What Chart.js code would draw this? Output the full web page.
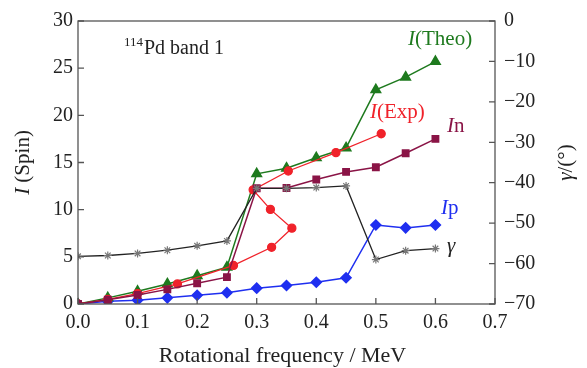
<!DOCTYPE html>
<html><head><meta charset="utf-8">
<script src="https://cdn.jsdelivr.net/npm/chart.js@4/dist/chart.umd.min.js"></script>
<style>html,body{margin:0;padding:0;background:#fff}#wrap{width:587px;height:368px}</style>
</head><body><div id="wrap"><canvas id="c" width="587" height="368"></canvas></div>
<script>
// Rotational frequency (MeV) for calculated series
const freq   = [0.00, 0.05, 0.10, 0.15, 0.20, 0.25, 0.30, 0.35, 0.40, 0.45, 0.50, 0.55, 0.60];
// I(Theo)
const spinTheo = [0.0, 0.65, 1.35, 2.13, 3.0, 3.9, 13.8, 14.4, 15.5, 16.55, 22.7, 24.05, 25.7];
// In (neutron)
const spinN    = [0.0, 0.45, 0.95, 1.55, 2.2, 2.85, 12.27, 12.3, 13.2, 14.0, 14.5, 15.98, 17.5];
// Ip (proton)
const spinP    = [0.0, 0.28, 0.41, 0.65, 0.93, 1.2, 1.68, 1.96, 2.3, 2.78, 8.38, 8.07, 8.38];
// gamma (deg), right axis
const gammaDeg = [-58.2, -58.0, -57.5, -56.7, -55.6, -54.4, -41.4, -41.4, -41.2, -40.8, -59.0, -56.8, -56.3];
// I(Exp): experimental points (non-uniform frequencies)
const expFreq = [0.00, 0.05, 0.10, 0.167, 0.261, 0.325, 0.359, 0.323, 0.294, 0.353, 0.433, 0.509];
const expSpin = [0.0, 0.5, 1.1, 2.13, 4.09, 6.01, 8.04, 10.03, 12.1, 14.1, 16.05, 18.05];

const xTicks = [0.0, 0.1, 0.2, 0.3, 0.4, 0.5, 0.6, 0.7];
const yTicks = [0, 5, 10, 15, 20, 25, 30];
const y2Ticks = [0, -10, -20, -30, -40, -50, -60, -70];

const SERIF = '"Liberation Serif", "DejaVu Serif", serif';
const pts = (xs, ys) => xs.map((x, i) => ({x: x, y: ys[i]}));

function drawMixed(ctx, parts, x, y, size, color, align) {
  let w = 0;
  parts.forEach(p => { ctx.font = (p.i ? 'italic ' : '') + size + 'px ' + SERIF; w += ctx.measureText(p.t).width; });
  let cx = align === 'center' ? x - w / 2 : x;
  ctx.fillStyle = color; ctx.textBaseline = 'alphabetic'; ctx.textAlign = 'left';
  parts.forEach(p => { ctx.font = (p.i ? 'italic ' : '') + size + 'px ' + SERIF; ctx.fillText(p.t, cx, y); cx += ctx.measureText(p.t).width; });
}

const deco = {
  id: 'deco',
  afterDraw(chart) {
    const ctx = chart.ctx, a = chart.chartArea;
    const sx = chart.scales.x, sy = chart.scales.y, sy2 = chart.scales.y2;
    ctx.save();
    ctx.strokeStyle = '#555'; ctx.lineWidth = 1.3;
    ctx.strokeRect(a.left, a.top, a.right - a.left, a.bottom - a.top);
    ctx.beginPath();
    xTicks.forEach(v => { const px = sx.getPixelForValue(v); ctx.moveTo(px, a.bottom); ctx.lineTo(px, a.bottom - 6); });
    yTicks.forEach(v => { const py = sy.getPixelForValue(v); ctx.moveTo(a.left, py); ctx.lineTo(a.left + 6, py); });
    y2Ticks.forEach(v => { const py = sy2.getPixelForValue(v); ctx.moveTo(a.right, py); ctx.lineTo(a.right - 6, py); });
    ctx.stroke();
    // x title
    drawMixed(ctx, [{t: 'Rotational frequency / MeV'}], (a.left + a.right) / 2 - 4, 362, 22, '#222', 'center');
    // left title
    ctx.save(); ctx.translate(29, (a.top + a.bottom) / 2); ctx.rotate(-Math.PI / 2);
    drawMixed(ctx, [{t: 'I', i: true}, {t: ' (Spin)'}], 0, 0, 21, '#222', 'center'); ctx.restore();
    // right title
    ctx.save(); ctx.translate(572, (a.top + a.bottom) / 2); ctx.rotate(-Math.PI / 2);
    drawMixed(ctx, [{t: 'γ', i: true}, {t: '/(°)'}], 0, 0, 21, '#222', 'center'); ctx.restore();
    // annotation
    ctx.font = '13px ' + SERIF; ctx.fillStyle = '#222'; ctx.fillText('114', 124, 46);
    drawMixed(ctx, [{t: 'Pd band 1'}], 144, 54, 20, '#222');
    // series labels
    drawMixed(ctx, [{t: 'I', i: true}, {t: '(Theo)'}], 408, 45, 21, '#1e7a1e');
    drawMixed(ctx, [{t: 'I', i: true}, {t: '(Exp)'}], 370, 118, 21, '#f0222a');
    drawMixed(ctx, [{t: 'I', i: true}, {t: 'n'}], 447, 132, 21, '#8a1446');
    drawMixed(ctx, [{t: 'I', i: true}, {t: 'p'}], 441, 214, 21, '#1f2ff0');
    drawMixed(ctx, [{t: 'γ', i: true}], 447, 252, 21, '#222');
    ctx.restore();
  }
};

new Chart(document.getElementById('c'), {
  type: 'line',
  data: {
    datasets: [
      {label: 'gamma', data: pts(freq, gammaDeg), yAxisID: 'y2', borderColor: '#222', backgroundColor: '#777',
       pointBorderColor: '#777', pointStyle: 'star', pointRadius: 4, borderWidth: 1.3, pointBorderWidth: 1.2},
      {label: 'In', data: pts(freq, spinN), yAxisID: 'y', borderColor: '#8a1446', backgroundColor: '#8a1446',
       pointStyle: 'rect', pointRadius: 4.5, borderWidth: 1.5},
      {label: 'Exp', data: pts(expFreq, expSpin), yAxisID: 'y', borderColor: '#f0222a', backgroundColor: '#f0222a',
       pointStyle: 'circle', pointRadius: 4, borderWidth: 1.3},
      {label: 'Theo', data: pts(freq, spinTheo), yAxisID: 'y', borderColor: '#1e7a1e', backgroundColor: '#1e7a1e',
       pointStyle: 'triangle', pointRadius: 5.5, borderWidth: 1.5},
      {label: 'Ip', data: pts(freq, spinP), yAxisID: 'y', borderColor: '#1f2ff0', backgroundColor: '#1f2ff0',
       pointStyle: 'rectRot', pointRadius: 5, borderWidth: 1.5}
    ]
  },
  options: {
    responsive: false, animation: false, devicePixelRatio: 1,
    layout: {padding: {top: 13, left: 0, right: 0, bottom: 0}},
    plugins: {legend: {display: false}, tooltip: {enabled: false}},
    elements: {line: {tension: 0}},
    scales: {
      x: {type: 'linear', min: 0, max: 0.7,
          afterBuildTicks: s => { s.ticks = xTicks.map(v => ({value: v})); },
          afterFit: s => { s.height = 64; },
          ticks: {callback: v => Number(v).toFixed(1), font: {family: SERIF, size: 20}, color: '#222', padding: 7, maxRotation: 0},
          grid: {drawOnChartArea: false, drawTicks: false}, border: {display: false}},
      y: {position: 'left', min: 0, max: 30,
          afterBuildTicks: s => { s.ticks = yTicks.map(v => ({value: v})); },
          afterFit: s => { s.width = 78; },
          ticks: {font: {family: SERIF, size: 20}, color: '#222', padding: 5},
          grid: {drawOnChartArea: false, drawTicks: false}, border: {display: false}},
      y2: {position: 'right', min: -70, max: 0,
          afterBuildTicks: s => { s.ticks = y2Ticks.map(v => ({value: v})); },
          afterFit: s => { s.width = 92; },
          ticks: {callback: v => v === 0 ? '0' : '\u2212' + Math.abs(v), font: {family: SERIF, size: 20}, color: '#222', padding: 9},
          grid: {drawOnChartArea: false, drawTicks: false}, border: {display: false}}
    }
  },
  plugins: [deco]
});
</script></body></html>
